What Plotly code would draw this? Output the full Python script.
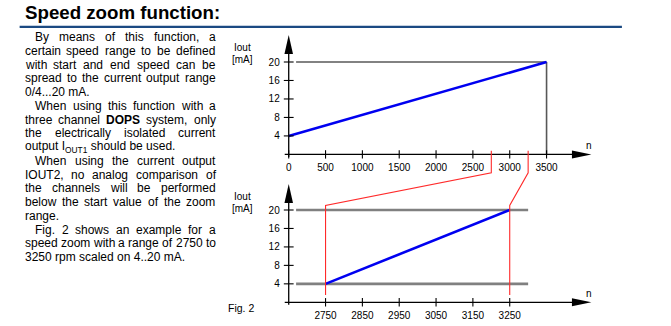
import re
import plotly.graph_objects as go

W, H = 671, 326

# ---------------- chart data ----------------
FULL_N = [0, 3500]            # full speed range  [rpm]
FULL_IOUT = [4, 20]           # output current    [mA]
ZOOM_N = [2750, 3250]         # zoomed speed range
ZOOM_IOUT = [4, 20]
FULL_SCALE = 20               # upper current limit [mA]
TOP_XTICKS = [0, 500, 1000, 1500, 2000, 2500, 3000, 3500]
ZOOM_XTICKS = [2750, 2850, 2950, 3050, 3150, 3250]
IOUT_TICKS = [4, 8, 12, 16, 20]
TOP_LIMIT_N = [100, 3500]     # extent of the 20 mA limit line (upper diagram)
ZOOM_LIMIT_N = [2670, 3300]   # extent of the 4/20 mA limit lines (lower diagram)
ZOOM_LIMITS = [4, 20]

# ---------------- text ----------------
TITLE = "Speed zoom function:"
PARAGRAPHS = [
    ["By means of this function, a",
     "certain speed range to be defined",
     "with start and end speed can be",
     "spread to the current output range",
     "0/4...20 mA."],
    ["When using this function with a",
     "three channel <b>DOPS</b> system, only",
     "the electrically isolated current",
     "output I<sub>OUT1</sub> should be used."],
    ["When using the current output",
     "IOUT2, no analog comparison of",
     "the channels will be performed",
     "below the start value of the zoom",
     "range."],
    ["Fig. 2 shows an example for a",
     "speed zoom with a range of 2750 to",
     "3250 rpm scaled on 4..20 mA."],
]

FONT = "Liberation Sans, Arial, sans-serif"

# Arial / Liberation Sans advance widths (1/1000 em)
_W = {}
for chars, w in [(" ,./:;I[]ft!", 278), ("ijl", 222), ("r()-", 333),
                 ("cksvxyzJ", 500), ("abdeghnopqu0123456789L", 556),
                 ("FTZ", 611), ("wCDHNRU", 722), ("mM", 833),
                 ("ABEKPSVXY", 667), ("GOQ", 778), ("W", 944)]:
    for c in chars:
        _W[c] = w
_WB = {"D": 722, "O": 778, "P": 667, "S": 667}


def text_width(word, size):
    bold = "<b>" in word
    plain = re.sub(r"<[^>]+>", "", word)
    total = sum((_WB.get(c, 667) if bold else _W.get(c, 556)) for c in plain)
    return total * size / 1000.0


def px(x):
    return x / W


def py(y):
    return 1 - y / H


def label(text, x, y, size, anchor="left", **kw):
    return dict(text=text, x=px(x), y=py(y), xref="paper", yref="paper",
                showarrow=False, font=dict(family=FONT, size=size, color="black"),
                xanchor=anchor, yanchor="middle", borderpad=0, borderwidth=0, **kw)


# ---------------- diagram geometry (pixels) ----------------
AX_TIP_X = 591
TOP = dict(left=287, bottom=154.4, xs=0.074, ys=4.62, x0=0, tip=35)
BOT = dict(left=287, bottom=302.3, xs=0.37, ys=4.615, x0=2650, tip=184)


def to_px(ax, n, i):
    return ax["left"] + (n - ax["x0"]) * ax["xs"], ax["bottom"] - i * ax["ys"]


def axis_cfg(ax):
    xr = [ax["x0"], ax["x0"] + (AX_TIP_X - ax["left"]) / ax["xs"]]
    yr = [0, (ax["bottom"] - ax["tip"]) / ax["ys"]]
    xd = [px(ax["left"]), px(AX_TIP_X)]
    yd = [py(ax["bottom"]), py(ax["tip"])]
    return xr, yr, xd, yd


fig = go.Figure()

BLUE = "#0000f0"
tick_font = dict(family=FONT, size=10, color="black")

# upper diagram: full speed range
fig.add_trace(go.Scatter(x=TOP_LIMIT_N, y=[FULL_SCALE, FULL_SCALE], mode="lines",
                         line=dict(color="#585858", width=1.6), xaxis="x", yaxis="y",
                         hoverinfo="skip"))
fig.add_trace(go.Scatter(x=[FULL_N[1], FULL_N[1]], y=[FULL_SCALE, 0], mode="lines",
                         line=dict(color="#585858", width=1.6), xaxis="x", yaxis="y",
                         hoverinfo="skip"))
fig.add_trace(go.Scatter(x=FULL_N, y=FULL_IOUT, mode="lines",
                         line=dict(color=BLUE, width=2.6), xaxis="x", yaxis="y"))

# lower diagram: zoomed speed range
for lim in ZOOM_LIMITS:
    fig.add_trace(go.Scatter(x=ZOOM_LIMIT_N, y=[lim, lim], mode="lines",
                             line=dict(color="#808080", width=2.6), xaxis="x2", yaxis="y2",
                             hoverinfo="skip"))
fig.add_trace(go.Scatter(x=ZOOM_N, y=ZOOM_IOUT, mode="lines",
                         line=dict(color=BLUE, width=2.6), xaxis="x2", yaxis="y2"))

# crossing tick marks on both axes
for (xa, ya, xt, x0) in [("x", "y", TOP_XTICKS, 0), ("x2", "y2", ZOOM_XTICKS, 2650)]:
    fig.add_trace(go.Scatter(x=xt, y=[0] * len(xt), mode="markers", cliponaxis=False,
                             marker=dict(symbol="line-ns", size=6,
                                         line=dict(color="black", width=1.1)),
                             xaxis=xa, yaxis=ya, hoverinfo="skip"))
    fig.add_trace(go.Scatter(x=[x0] * len(IOUT_TICKS), y=IOUT_TICKS, mode="markers",
                             cliponaxis=False,
                             marker=dict(symbol="line-ew", size=7,
                                         line=dict(color="black", width=1.1)),
                             xaxis=xa, yaxis=ya, hoverinfo="skip"))

shapes = []
annotations = []

# axis lines with arrow heads
for ax in (TOP, BOT):
    bx, by = ax["left"], ax["bottom"]
    base_y = ax["tip"] + 19
    shapes.append(dict(type="line", xref="paper", yref="paper",
                       x0=px(bx), x1=px(bx), y0=py(by + 2.5), y1=py(base_y),
                       line=dict(color="black", width=1.3)))
    shapes.append(dict(type="line", xref="paper", yref="paper",
                       x0=px(bx - 4), x1=px(AX_TIP_X - 19), y0=py(by), y1=py(by),
                       line=dict(color="black", width=1.3)))
    shapes.append(dict(type="path", xref="paper", yref="paper",
                       path=f"M{px(bx - 4.3)},{py(base_y)} L{px(bx)},{py(ax['tip'])} "
                            f"L{px(bx + 4.3)},{py(base_y)} Z",
                       fillcolor="black", line=dict(width=0)))
    shapes.append(dict(type="path", xref="paper", yref="paper",
                       path=f"M{px(AX_TIP_X - 19.5)},{py(by - 4)} L{px(AX_TIP_X)},{py(by)} "
                            f"L{px(AX_TIP_X - 19.5)},{py(by + 4)} Z",
                       fillcolor="black", line=dict(width=0)))
    annotations.append(label("n", 588.3, by - 8.5, 10, "center"))
    annotations.append(label("Iout", 241, ax["tip"] + 12, 10, "center"))
    annotations.append(label("[mA]", 241, ax["tip"] + 24.5, 10, "center"))

# red connectors from the zoom range in the upper diagram to the lower one
for n in ZOOM_N:
    pts = [to_px(TOP, n, 0.8), to_px(TOP, n, -4.0), to_px(BOT, n, 21.0), to_px(BOT, n, 1.6)]
    path = "M" + " L".join(f"{px(a)},{py(b)}" for a, b in pts)
    shapes.append(dict(type="path", xref="paper", yref="paper", path=path,
                       line=dict(color="#ff2a2a", width=1.1)))

# heading and rule
annotations.append(label(f"<b>{TITLE}</b>", 22.3, 13.0, 18.7))
shapes.append(dict(type="line", xref="paper", yref="paper", x0=px(16.7), x1=px(621.7),
                   y0=py(26.8), y1=py(26.8), line=dict(color="#1b4a82", width=2.2)))

# justified body text
LEFT, RIGHT, INDENT = 21.8, 213.5, 10.6
LINE0, LEAD = 37.0, 13.76
SIZE = 12
k = 0
for para in PARAGRAPHS:
    for j, line in enumerate(para):
        yc = LINE0 + LEAD * k
        start = LEFT + (INDENT if j == 0 else 0)
        if j == len(para) - 1:
            annotations.append(label(line, start, yc, SIZE))
        else:
            words = line.split(" ")
            widths = [text_width(w, SIZE) for w in words]
            gap = (RIGHT - start - sum(widths)) / (len(words) - 1)
            x = start
            for w, ww in zip(words, widths):
                annotations.append(label(w, x, yc, SIZE))
                x += ww + gap
        k += 1

annotations.append(label("Fig. 2", 239.2, 307.7, 10.5, "center"))

xr1, yr1, xd1, yd1 = axis_cfg(TOP)
xr2, yr2, xd2, yd2 = axis_cfg(BOT)
common = dict(showgrid=False, zeroline=False, showline=False, ticks="",
              tickfont=tick_font, fixedrange=True)

fig.update_layout(
    width=W, height=H, margin=dict(l=0, r=0, t=0, b=0),
    paper_bgcolor="white", plot_bgcolor="rgba(0,0,0,0)",
    showlegend=False,
    xaxis=dict(domain=xd1, range=xr1, anchor="y", tickvals=TOP_XTICKS,
               ticklabelstandoff=6, **common),
    yaxis=dict(domain=yd1, range=yr1, anchor="x", tickvals=IOUT_TICKS,
               ticklabelstandoff=8, **common),
    xaxis2=dict(domain=xd2, range=xr2, anchor="y2", tickvals=ZOOM_XTICKS,
                ticklabelstandoff=6, **common),
    yaxis2=dict(domain=yd2, range=yr2, anchor="x2", tickvals=IOUT_TICKS,
                ticklabelstandoff=8, **common),
    shapes=shapes, annotations=annotations,
)

fig.write_html("out.html")
